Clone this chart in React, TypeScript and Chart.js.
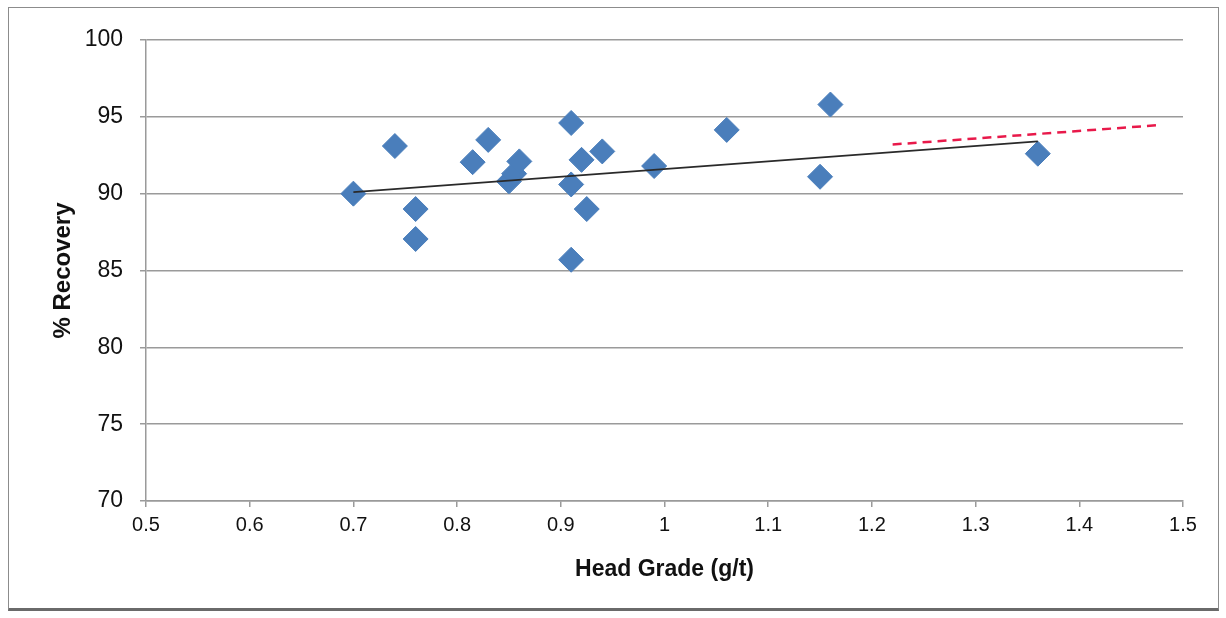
import React, { useEffect, useRef } from "react";
import { Chart, registerables } from "chart.js";

Chart.register(...registerables);

const headGrade = [0.70, 0.74, 0.76, 0.76, 0.815, 0.83, 0.85, 0.855, 0.86, 0.91, 0.91, 0.91, 0.92, 0.925, 0.94, 0.99, 1.06, 1.15, 1.16, 1.36];
const recovery = [90.0, 93.1, 89.0, 87.05, 92.05, 93.5, 90.8, 91.3, 92.1, 94.6, 90.6, 85.7, 92.2, 89.0, 92.75, 91.8, 94.15, 91.1, 95.8, 92.6];

const trendX = [0.70, 1.36];
const trendY = [90.1, 93.4];

const projX = [1.22, 1.475];
const projY = [93.2, 94.45];

const xTicks = [0.5, 0.6, 0.7, 0.8, 0.9, 1.0, 1.1, 1.2, 1.3, 1.4, 1.5];
const yTicks = [70, 75, 80, 85, 90, 95, 100];

export default function App() {
  const ref = useRef<HTMLCanvasElement | null>(null);
  useEffect(() => {
    if (!ref.current) return;
    const chart = new Chart(ref.current, {
      type: "scatter",
      data: {
        datasets: [
          {
            label: "Trend",
            type: "line",
            data: trendX.map((x, i) => ({ x, y: trendY[i] })),
            borderColor: "#2a2a2a",
            borderWidth: 1.6,
            pointRadius: 0,
            showLine: true,
          },
          {
            label: "Projection",
            type: "line",
            data: projX.map((x, i) => ({ x, y: projY[i] })),
            borderColor: "#e8194a",
            borderWidth: 2.5,
            borderDash: [9, 6],
            pointRadius: 0,
            showLine: true,
          },
          {
            label: "Recovery",
            data: headGrade.map((x, i) => ({ x, y: recovery[i] })),
            pointStyle: "rectRot",
            pointRadius: 12.5,
            backgroundColor: "#4a7ebb",
            borderColor: "#4a7ebb",
            borderWidth: 1,
          },
        ],
      },
      options: {
        responsive: false,
        animation: false,
        layout: { padding: { top: 40, right: 43, left: 0, bottom: 0 } },
        plugins: { legend: { display: false }, tooltip: { enabled: false } },
        scales: {
          x: {
            type: "linear",
            min: 0.5,
            max: 1.5,
            afterBuildTicks: (s: any) => {
              s.ticks = xTicks.map((v) => ({ value: v }));
            },
            afterFit: (s: any) => {
              s.height = 117;
            },
            grid: { display: true, drawOnChartArea: false, drawTicks: true, tickLength: 6, color: "#9a9a9a", lineWidth: 1.5 },
            border: { color: "#9a9a9a", width: 1.5 },
            ticks: {
              font: { family: "'Liberation Sans', Arial, sans-serif", size: 20 },
              color: "#111",
              padding: 6,
              maxRotation: 0,
              callback: (v: any) => String(Math.round(Number(v) * 10) / 10),
            },
            title: {
              display: true,
              text: "Head Grade (g/t)",
              font: { family: "'Liberation Sans', Arial, sans-serif", size: 23, weight: "bold" },
              color: "#111",
              padding: { top: 0, bottom: 35 },
            },
          },
          y: {
            type: "linear",
            min: 70,
            max: 100,
            afterBuildTicks: (s: any) => {
              s.ticks = yTicks.map((v) => ({ value: v }));
            },
            afterFit: (s: any) => {
              s.width = 146;
            },
            grid: { color: "#9a9a9a", lineWidth: 1.5, tickLength: 6 },
            border: { color: "#9a9a9a", width: 1.5 },
            ticks: {
              font: { family: "'Liberation Sans', Arial, sans-serif", size: 23 },
              color: "#111",
              padding: 17,
            },
            title: {
              display: true,
              text: "% Recovery",
              font: { family: "'Liberation Sans', Arial, sans-serif", size: 24, weight: "bold" },
              color: "#111",
              padding: { top: 49, bottom: 0 },
            },
          },
        },
      },
    });
    return () => chart.destroy();
  }, []);
  return (
    <div style={{ position: "absolute", left: 0, top: 0, width: 1226, height: 618, background: "#fff" }}>
      <div
        style={{
          position: "absolute",
          left: 8,
          top: 7,
          width: 1211,
          height: 604,
          border: "1.5px solid #8c8c8c",
          borderBottom: "3px solid #6a6a6a",
          boxSizing: "border-box",
        }}
      />
      <canvas ref={ref} width={1226} height={618} style={{ position: "absolute", left: 0, top: 0 }} />
    </div>
  );
}
